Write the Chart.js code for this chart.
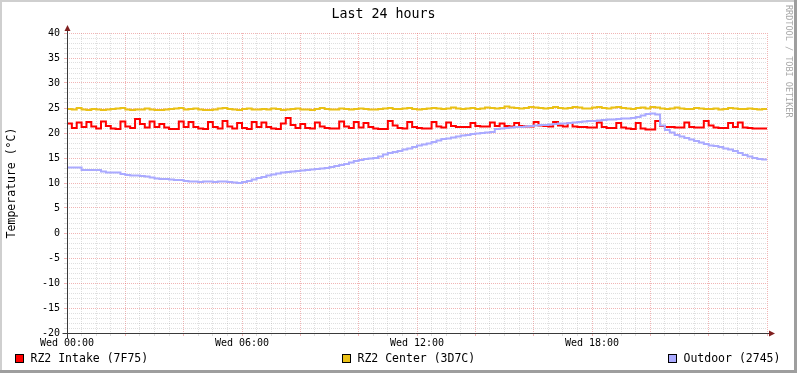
<!DOCTYPE html>
<html>
<head>
<meta charset="utf-8">
<script src="https://cdn.jsdelivr.net/npm/chart.js@4/dist/chart.umd.min.js"></script>
<style>
html, body { margin: 0; padding: 0; background: #ffffff; }
canvas { display: block; }
</style>
</head>
<body>
<canvas id="c" width="797" height="373"></canvas>
<script>
// ---- data (one sample every 10 minutes, Wed 00:00 .. Thu 00:00) ----
const startHour = 0;
const sampleStepMinutes = 10;

const intake = [
  21.5, 21.9, 21.0, 22.1, 21.2, 22.2, 21.3, 20.9, 22.3, 21.4,
  20.9, 20.8, 22.3, 21.3, 21.0, 22.8, 21.8, 21.1, 22.3, 21.2,
  21.8, 21.1, 20.8, 20.8, 22.3, 21.2, 22.2, 21.2, 20.9, 20.8,
  22.2, 21.2, 20.9, 22.4, 21.3, 20.9, 22.0, 21.0, 20.8, 22.2,
  21.2, 22.1, 21.2, 20.9, 20.8, 21.9, 23.0, 21.6, 21.0, 21.8,
  21.0, 20.9, 22.1, 21.3, 21.0, 20.9, 20.9, 22.3, 21.3, 21.0,
  22.2, 21.1, 22.0, 21.2, 20.9, 20.8, 20.8, 22.4, 21.5, 21.0,
  20.9, 22.2, 21.2, 21.0, 20.9, 20.9, 22.2, 21.3, 21.1, 22.1,
  21.4, 21.2, 21.2, 21.2, 22.0, 21.4, 21.3, 21.3, 22.1, 21.4,
  21.9, 21.4, 21.3, 22.0, 21.4, 21.3, 21.3, 22.2, 21.5, 21.4,
  21.3, 22.2, 21.5, 21.3, 22.0, 21.3, 21.2, 21.2, 21.1, 21.1,
  22.1, 21.2, 21.0, 21.0, 22.0, 21.1, 20.9, 20.8, 22.0, 20.9,
  20.7, 20.7, 22.4, 21.4, 21.2, 21.2, 21.1, 21.1, 22.1, 21.2,
  21.1, 21.1, 22.4, 21.5, 21.1, 21.0, 21.0, 22.0, 21.2, 22.1,
  21.1, 21.0, 20.9, 20.9, 20.9
];

const center = [
  25.0, 24.8, 24.7, 25.0, 24.7, 24.6, 24.8, 24.7, 24.6, 24.7,
  24.8, 24.9, 25.0, 24.7, 24.6, 24.7, 24.7, 24.9, 24.7, 24.6,
  24.6, 24.7, 24.8, 24.9, 25.0, 24.7, 24.8, 24.9, 24.7, 24.6,
  24.6, 24.7, 24.9, 25.0, 24.8, 24.7, 24.6, 24.8, 24.9, 24.7,
  24.7, 24.8, 24.7, 24.9, 24.8, 24.6, 24.7, 24.8, 24.9, 24.7,
  24.7, 24.6, 24.8, 25.0, 24.8, 24.7, 24.7, 24.9, 24.8, 24.7,
  24.8, 24.9, 24.8, 24.7, 24.7, 24.8, 24.9, 25.0, 24.8, 24.8,
  24.9, 25.0, 24.8, 24.7, 24.8, 24.9, 25.0, 24.9, 24.8, 24.9,
  25.1, 24.9, 24.8, 24.9, 25.0, 24.8, 24.9, 25.1, 25.0, 24.9,
  25.0, 25.3, 25.1, 25.0, 24.9, 25.0, 25.2, 25.1, 25.0, 24.9,
  25.0, 25.2, 25.0, 24.9, 25.0, 25.2, 25.1, 24.9, 24.9, 25.1,
  25.2, 25.0, 24.9, 25.1, 25.2, 25.0, 24.9, 24.8, 25.0, 25.1,
  24.9, 25.2, 25.1, 24.9, 24.8, 24.9, 25.1, 24.9, 24.8, 24.8,
  25.0, 24.9, 24.8, 24.8, 24.9, 24.7, 24.8, 25.0, 24.9, 24.8,
  24.8, 24.9, 24.8, 24.7, 24.8
];

const outdoor = [
  13.6, 13.1, 13.1, 13.1, 12.6, 12.6, 12.6, 12.6, 12.3, 12.1,
  12.1, 12.1, 11.8, 11.6, 11.5, 11.5, 11.4, 11.3, 11.1, 10.9,
  10.8, 10.8, 10.7, 10.6, 10.6, 10.4, 10.3, 10.3, 10.2, 10.3,
  10.3, 10.2, 10.3, 10.3, 10.2, 10.1, 10.0, 10.2, 10.4, 10.7,
  11.0, 11.2, 11.5, 11.7, 11.9, 12.1, 12.2, 12.3, 12.4, 12.5,
  12.6, 12.7, 12.8, 12.9, 13.0, 13.2, 13.4, 13.6, 13.8, 14.1,
  14.4, 14.6, 14.8, 14.9, 15.0, 15.3, 15.7, 16.0, 16.2, 16.4,
  16.7, 16.9, 17.2, 17.5, 17.7, 17.9, 18.2, 18.5, 18.8, 18.9,
  19.1, 19.3, 19.5, 19.6, 19.8, 19.9, 20.0, 20.1, 20.2, 20.8,
  20.9, 21.0, 21.1, 21.2, 21.2, 21.3, 21.4, 21.5, 21.6, 21.6,
  21.7, 21.8, 21.9, 21.9, 22.0, 22.1, 22.2, 22.3, 22.4, 22.4,
  22.5, 22.6, 22.7, 22.7, 22.8, 22.9, 22.9, 23.0, 23.2, 23.5,
  23.8, 23.9, 23.7, 21.5, 20.6, 20.1, 19.6, 19.3, 19.0, 18.7,
  18.4, 18.1, 17.8, 17.5, 17.4, 17.2, 16.9, 16.7, 16.4, 16.0,
  15.6, 15.3, 15.0, 14.8, 14.7
];

const seriesNames = ['RZ2 Intake (7F75)', 'RZ2 Center (3D7C)', 'Outdoor (2745)'];
const seriesColors = ['#FF0000', '#EAC117', '#AAAAFF'];
const xTickLabels = { 0: 'Wed 00:00', 6: 'Wed 06:00', 12: 'Wed 12:00', 18: 'Wed 18:00' };
const yMin = -20, yMax = 40;
const chartTitle = 'Last 24 hours';
const yAxisTitle = 'Temperature (\u00B0C)';
const watermark = 'RRDTOOL / TOBI OETIKER';

// ---- build ----
const toPoints = vals => vals.map((v, i) => ({ x: startHour + i * sampleStepMinutes / 60, y: v }));
const MONO = '"DejaVu Sans Mono", monospace';
const MINOR = 'rgba(150,150,150,0.3)';
const MAJOR = 'rgba(222,79,79,0.42)';

const decor = {
  id: 'rrdDecor',
  beforeDraw(chart) {
    const c = chart.ctx, W = chart.width, H = chart.height;
    c.save();
    c.fillStyle = '#ffffff';
    c.fillRect(0, 0, W, H);
    c.fillStyle = '#CFCFCF';
    c.fillRect(0, 0, W, 2);
    c.fillRect(0, 0, 2, H);
    c.fillStyle = '#9E9E9E';
    c.fillRect(W - 3, 0, 3, H);
    c.fillRect(0, H - 3, W, 3);
    c.restore();
  },
  afterDatasetsDraw(chart) {
    const c = chart.ctx;
    const xs = chart.scales.x, ys = chart.scales.y;
    const x0 = Math.floor(xs.getPixelForValue(0)) + 0.5;
    const yb = Math.floor(ys.getPixelForValue(yMin)) + 0.5;
    const xr = xs.getPixelForValue(24);
    const yt = ys.getPixelForValue(yMax);
    c.save();
    c.strokeStyle = '#3a3a3a';
    c.lineWidth = 1;
    c.beginPath();
    c.moveTo(x0 - 5, yb); c.lineTo(xr + 2, yb);
    c.moveTo(x0, yb + 5); c.lineTo(x0, yt - 2);
    c.stroke();
    c.fillStyle = '#801F1F';
    c.beginPath();
    c.moveTo(xr + 2, yb - 3); c.lineTo(xr + 8, yb); c.lineTo(xr + 2, yb + 3); c.closePath();
    c.fill();
    c.beginPath();
    c.moveTo(x0 - 3, yt - 2); c.lineTo(x0, yt - 8); c.lineTo(x0 + 3, yt - 2); c.closePath();
    c.fill();
    c.restore();
  },
  afterDraw(chart) {
    const c = chart.ctx;
    c.save();
    // legend
    const boxX = [15, 342, 668];
    c.font = '11.5px ' + MONO;
    c.textBaseline = 'middle';
    c.textAlign = 'left';
    seriesNames.forEach((name, i) => {
      c.fillStyle = seriesColors[i];
      c.fillRect(boxX[i], 354, 9, 9);
      c.strokeStyle = '#000';
      c.lineWidth = 1;
      c.strokeRect(boxX[i] + 0.5, 354.5, 8, 8);
      c.fillStyle = '#000';
      c.fillText(name, boxX[i] + 15.5, 359);
    });
    // watermark
    c.translate(788.5, 5);
    c.rotate(Math.PI / 2);
    c.font = '8.5px ' + MONO;
    c.fillStyle = '#A8A8A8';
    c.textBaseline = 'middle';
    c.textAlign = 'left';
    c.fillText(watermark, 0, 0);
    c.restore();
  }
};

new Chart(document.getElementById('c'), {
  type: 'line',
  data: {
    datasets: [
      { label: seriesNames[0], data: toPoints(intake), borderColor: seriesColors[0], borderWidth: 2, pointRadius: 0, stepped: 'after', order: 2 },
      { label: seriesNames[1], data: toPoints(center), borderColor: seriesColors[1], borderWidth: 2, pointRadius: 0, stepped: 'after', order: 1 },
      { label: seriesNames[2], data: toPoints(outdoor), borderColor: seriesColors[2], borderWidth: 2, pointRadius: 0, stepped: 'after', order: 0 }
    ]
  },
  options: {
    responsive: false,
    animation: false,
    devicePixelRatio: 1,
    events: [],
    layout: { padding: { left: 0, right: 30, top: 0, bottom: 0 } },
    plugins: {
      legend: { display: false },
      tooltip: { enabled: false },
      title: {
        display: true,
        text: chartTitle,
        color: '#000',
        font: { family: MONO, size: 13.3, weight: 'normal' },
        padding: { top: 7, bottom: 10.04 }
      }
    },
    scales: {
      x: {
        type: 'linear',
        min: 0, max: 24,
        afterFit: s => { s.height = 40; },
        border: { display: false, dash: [1, 1] },
        grid: {
          color: ctx => (ctx.tick && ctx.tick.value % 2 === 0) ? MAJOR : MINOR,
          tickColor: ctx => (ctx.tick && ctx.tick.value % 2 === 0) ? MAJOR : MINOR,
          tickLength: 3,
          lineWidth: 1
        },
        ticks: {
          stepSize: 0.5,
          autoSkip: false,
          maxRotation: 0,
          minRotation: 0,
          padding: 1,
          color: '#000',
          font: { family: MONO, size: 10 },
          callback: v => (xTickLabels[v] !== undefined ? xTickLabels[v] : '')
        }
      },
      y: {
        min: yMin, max: yMax,
        afterFit: s => { s.width = 67; },
        border: { display: false, dash: [1, 1] },
        grid: {
          color: ctx => (ctx.tick && ctx.tick.value % 5 === 0) ? MAJOR : MINOR,
          tickColor: ctx => (ctx.tick && ctx.tick.value % 5 === 0) ? MAJOR : MINOR,
          tickLength: 3,
          lineWidth: 1
        },
        ticks: {
          stepSize: 1,
          autoSkip: false,
          padding: 4,
          color: '#000',
          font: { family: MONO, size: 10 },
          callback: v => (v % 5 === 0 ? String(v) : '')
        },
        title: {
          display: true,
          text: yAxisTitle,
          color: '#000',
          font: { family: MONO, size: 11.5 },
          padding: { top: 5, bottom: 0 }
        }
      }
    }
  },
  plugins: [decor]
});
</script>
</body>
</html>
